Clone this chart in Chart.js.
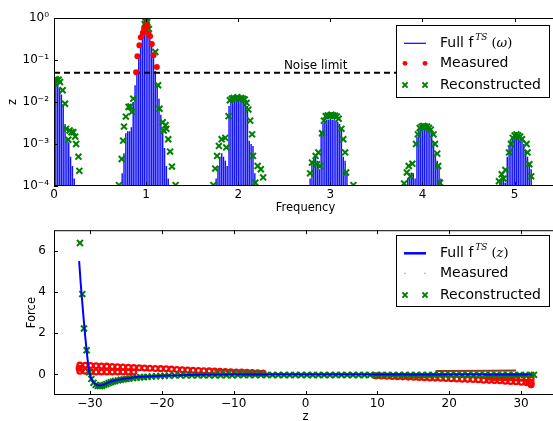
<!DOCTYPE html>
<html>
<head>
<meta charset="utf-8">
<title>Spectrum and force reconstruction</title>
<script src="https://cdn.jsdelivr.net/npm/chart.js@4.4.1/dist/chart.umd.min.js"></script>
<style>
  html, body { margin: 0; padding: 0; background: #fff; }
  body { width: 553px; height: 421px; overflow: hidden; position: relative; }
  canvas { position: absolute; left: 0; }
  #spectrumCanvas { top: 0; }
  #forceCanvas { top: 215px; }
</style>
</head>
<body>
<canvas id="spectrumCanvas" width="570" height="215"></canvas>
<canvas id="forceCanvas" width="570" height="210"></canvas>
<script>
// ---------- spectrum panel ----------
const freqTicks = [0, 1, 2, 3, 4, 5];
const ampTicks = [1e-4, 1e-3, 1e-2, 1e-1, 1];
const ampTickLabels = ['10\u207B\u2074', '10\u207B\u00B3', '10\u207B\u00B2', '10\u207B\u00B9', '10\u2070'];
const noiseLevel = 0.05;
const noiseLabelFreq = 2.84;
const ampFloor = 1e-4;

// spectral lines: offsets from each harmonic, and one amplitude row per harmonic
const harmonics = [0, 1, 2, 3, 4, 5];
const lineOffsets = [-0.26, -0.24, -0.22, -0.20, -0.18, -0.16, -0.14, -0.12, -0.10, -0.08, -0.06, -0.04, -0.02,
                     0, 0.02, 0.04, 0.06, 0.08, 0.10, 0.12, 0.14, 0.16, 0.18, 0.20, 0.22, 0.24, 0.26];
const spectrumH0 = [null, null, null, null, null, null, null, null, null, null, null, null, null,
                    0.03, 0.03, 0.028, 0.022, 0.015, 0.009, 0.003, 0.0014, 0.0011, 0.0005, 0.0003, 0.00015, null, null];
const spectrumH1 = [0.0002, 0.0006, 0.0018, 0.002, 0.002, 0.0025, 0.01, 0.025, 0.055, 0.13, 0.22, 0.38, 0.5,
                    0.65, 0.5, 0.38, 0.22, 0.13, 0.055, 0.025, 0.012, 0.005, 0.002, 0.0008, 0.0003, 0.00015, null];
const spectrumH2 = [null, 0.00015, 0.0003, 0.0005, 0.0006, 0.0005, 0.0004, 0.0003, 0.008, 0.010, 0.011, 0.011, 0.011,
                    0.012, 0.011, 0.011, 0.011, 0.010, 0.008, 0.0012, 0.001, 0.0009, 0.0002, null, null, null, null];
const spectrumH3 = [null, null, 0.00015, 0.0004, 0.0005, 0.0005, 0.0004, 0.00025, 0.002, 0.0032, 0.0036, 0.0038, 0.0038,
                    0.004, 0.0038, 0.0038, 0.0036, 0.0034, 0.003, 0.0022, 0.0005, 0.0004, 0.0002, null, null, null, null];
const spectrumH4 = [null, null, null, null, null, 0.00015, 0.0002, 0.00021, 0.0002, 0.00015, 0.0015, 0.0022, 0.0025,
                    0.0026, 0.0026, 0.0025, 0.0024, 0.0022, 0.0018, 0.0012, 0.0006, 0.0004, 0.0003, 0.00015, null, null, null];
const spectrumH5 = [null, null, null, null, null, 0.00013, 0.00015, 0.00014, 0.00012, 0.0005, 0.0009, 0.0012, 0.0014,
                    0.0016, 0.0016, 0.0015, 0.0014, 0.0012, 0.001, 0.0007, 0.0005, 0.00035, 0.00025, null, null, null, null];
const spectrumRows = [spectrumH0, spectrumH1, spectrumH2, spectrumH3, spectrumH4, spectrumH5];

// components above the noise limit
const measuredFreq = [0.891, 0.905, 0.927, 0.942, 0.964, 0.978, 1.0, 1.014, 1.025, 1.043, 1.062, 1.08, 1.116];
const measuredAmp  = [0.051, 0.123, 0.224, 0.347, 0.447, 0.56, 0.68, 0.65, 0.43, 0.37, 0.24, 0.13, 0.068];

// reconstructed components
const reconFreq = [
  0.01, 0.02, 0.035, 0.05, 0.065, 0.094, 0.12, 0.13, 0.155, 0.17, 0.19, 0.21, 0.23, 0.24, 0.265, 0.275,
  0.705, 0.735, 0.75, 0.76, 0.78, 0.81, 0.83, 0.845, 0.86,
  0.985, 0.995, 1.005, 1.012, 1.03, 1.10,
  1.13, 1.145, 1.18, 1.19, 1.21, 1.22, 1.24, 1.26, 1.28, 1.32,
  1.73, 1.75, 1.77, 1.79, 1.82, 1.86, 1.87, 1.895, 1.91, 1.93, 1.95, 1.97, 1.99, 2.01, 2.03, 2.05, 2.07, 2.09,
  2.11, 2.13, 2.15, 2.16, 2.185, 2.21, 2.245, 2.27,
  2.78, 2.80, 2.84, 2.855, 2.87, 2.89, 2.91, 2.93, 2.95, 2.97, 2.99, 3.01, 3.03, 3.05, 3.07, 3.09,
  3.12, 3.14, 3.16, 3.17, 3.25,
  3.80, 3.83, 3.85, 3.87, 3.89, 3.93, 3.95, 3.97, 3.99, 4.01, 4.03, 4.05, 4.07, 4.09, 4.12, 4.135, 4.16, 4.17, 4.19,
  4.83, 4.86, 4.88, 4.90, 4.94, 4.96, 4.98, 5.00, 5.02, 5.04, 5.06, 5.08, 5.13, 5.14, 5.16, 5.18
];
const reconAmp = [
  0.0275, 0.035, 0.032, 0.034, 0.03, 0.019, 0.0091, 0.0023, 0.00126, 0.0021, 0.0019, 0.0019, 0.0015, 0.001, 0.0005, 0.00023,
  0.000105, 0.00044, 0.0012, 0.0026, 0.0045, 0.0076, 0.0078, 0.0058, 0.012,
  0.72, 0.82, 0.9, 0.8, 0.55, 0.155,
  0.025, 0.0069, 0.0033, 0.0021, 0.0028, 0.0023, 0.0013, 0.00066, 0.00029, 0.000105,
  0.000105, 0.00026, 0.00052, 0.0009, 0.0013, 0.0014, 0.00083, 0.0046, 0.011, 0.012, 0.0125, 0.012, 0.013, 0.012, 0.0125, 0.012, 0.0115, 0.0095,
  0.0066, 0.0036, 0.0017, 0.00052, 0.00012, 0.0003, 0.00025, 0.00016,
  0.0002, 0.00036, 0.00052, 0.00033, 0.00063, 0.0003, 0.0018, 0.0036, 0.0046, 0.0048, 0.0047, 0.005, 0.0048, 0.0047, 0.0045, 0.004,
  0.0023, 0.0013, 0.00063, 0.00021, 0.000105,
  0.000115, 0.00021, 0.0003, 0.00017, 0.00034, 0.001, 0.0017, 0.0024, 0.0026, 0.0027, 0.0026, 0.0026, 0.0024, 0.0022, 0.0017, 0.001, 0.00059, 0.0003, 0.00012,
  0.00013, 0.00019, 0.00015, 0.00024, 0.00063, 0.001, 0.0014, 0.0016, 0.0017, 0.0016, 0.0015, 0.0013, 0.001, 0.00063, 0.00033, 0.00017
];

// ---------- force panel ----------
const zTicks = [-30, -20, -10, 0, 10, 20, 30];
const forceTicks = [0, 2, 4, 6];

const zFull = [-31.5, -31.3, -31.1, -30.9, -30.7, -30.5, -30.3, -30.1, -29.9, -29.7, -29.5, -29.2, -28.9, -28.6,
               -28.2, -27.8, -27.3, -26.7, -26.0, -25.0, -24.0, -23.0, -22.0, -20.0, -18.0, -16.0, -14.0, -12.0,
               -10.0, -5.0, 0, 5, 10, 15, 20, 25, 30, 31.5];
const forceFull = [5.5, 4.5, 3.65, 2.8, 2.0, 1.3, 0.65, 0.12, -0.12, -0.27, -0.38, -0.48, -0.53, -0.54,
                   -0.51, -0.45, -0.38, -0.31, -0.26, -0.2, -0.15, -0.12, -0.1, -0.07, -0.05, -0.03, -0.02, -0.02,
                   -0.01, -0.01, -0.01, -0.01, -0.01, -0.01, -0.01, -0.01, -0.01, -0.01];

const zRecon = [-31.39, -31.06, -30.83, -30.46, -30.1, -29.8, -29.5, -29.2, -28.9, -28.6, -28.3, -28.0, -27.7, -27.4,
                -27.1, -26.8, -26.5, -26.1, -25.7, -25.3, -24.9, -24.5, -24.0, -23.5, -23.0, -22.5, -22.0, -21.4,
                -20.8, -20.2, -19.6, -19.0,
                -18.2, -17.4, -16.6, -15.8, -15.0, -14.2, -13.4, -12.6, -11.8, -11.0, -10.2, -9.4, -8.6, -7.8,
                -7.0, -6.2, -5.4, -4.6, -3.8, -3.0, -2.2, -1.4, -0.6, 0.2, 1.0, 1.8, 2.6, 3.4, 4.2, 5.0, 5.8,
                6.6, 7.4, 8.2, 9.0, 9.8, 10.6, 11.4, 12.2, 13.0, 13.8, 14.6, 15.4, 16.2, 17.0, 17.8, 18.6, 19.4,
                20.2, 21.0, 21.8, 22.6, 23.4, 24.2, 25.0, 25.8, 26.6, 27.4, 28.2, 29.0, 29.8, 30.6, 31.4, 31.8];
const forceRecon = [6.38, 3.9, 2.23, 1.17, 0.1, -0.22, -0.41, -0.51, -0.56, -0.57, -0.55, -0.51, -0.47, -0.42,
                    -0.38, -0.35, -0.32, -0.29, -0.26, -0.24, -0.22, -0.2, -0.18, -0.16, -0.14, -0.13, -0.12, -0.1,
                    -0.09, -0.08, -0.07, -0.06,
                    -0.05, -0.05, -0.05, -0.04, -0.04, -0.04, -0.04, -0.04, -0.04, -0.04, -0.04, -0.03, -0.03, -0.03,
                    -0.03, -0.03, -0.03, -0.03, -0.03, -0.03, -0.03, -0.03, -0.03, -0.03, -0.03, -0.03, -0.03, -0.03, -0.03, -0.03, -0.03,
                    -0.03, -0.03, -0.03, -0.03, -0.03, -0.03, -0.03, -0.03, -0.03, -0.03, -0.03, -0.03, -0.03, -0.03, -0.03, -0.03, -0.03,
                    -0.03, -0.03, -0.03, -0.03, -0.03, -0.03, -0.03, -0.03, -0.03, -0.03, -0.03, -0.03, -0.03, -0.03, -0.03, -0.02];

// measured force samples: approach branch (left) and retract branch (right)
const zMeasured = [
  -31.5, -31.1,
  -31.4, -30.65, -29.9, -29.15, -28.4, -27.65, -26.9, -26.15, -25.4, -24.65, -23.9, -23.15, -22.4, -21.65,
  -20.9, -20.15, -19.4, -18.65, -17.9, -17.15, -16.4, -15.65, -14.9, -14.15, -13.4, -12.65, -11.9, -11.15,
  -10.4, -9.65, -8.9, -8.15, -7.4, -6.65, -5.9,
  -31.4, -30.65, -29.9, -29.15, -28.4, -27.65, -26.9, -26.15, -25.4, -24.65, -23.9,
  9.8, 10.55, 11.3, 12.05, 12.8, 13.55, 14.3, 15.05, 15.8, 16.55, 17.3, 18.05, 18.8, 19.55, 20.3, 21.05,
  21.8, 22.55, 23.3, 24.05, 24.8, 25.55, 26.3, 27.05, 27.8, 28.55, 29.3, 30.05, 30.8, 31.4,
  25.55, 26.3, 27.05, 27.8, 28.55, 29.3, 30.05, 30.8, 31.4, 31.4, 31.1
];
const forceMeasured = [
  0.3, 0.3,
  0.45, 0.44, 0.43, 0.42, 0.41, 0.4, 0.38, 0.37, 0.36, 0.35, 0.33, 0.32, 0.31, 0.3,
  0.29, 0.28, 0.27, 0.255, 0.24, 0.225, 0.21, 0.2, 0.19, 0.18, 0.17, 0.16, 0.15, 0.14,
  0.13, 0.12, 0.11, 0.1, 0.09, 0.08, 0.07,
  0.15, 0.15, 0.13, 0.12, 0.12, 0.12, 0.12, 0.12, 0.12, 0.12, 0.12,
  -0.07, -0.08, -0.09, -0.1, -0.11, -0.12, -0.13, -0.14, -0.15, -0.16, -0.17, -0.18, -0.19, -0.2, -0.21, -0.22,
  -0.23, -0.24, -0.25, -0.26, -0.28, -0.29, -0.3, -0.31, -0.33, -0.34, -0.36, -0.38, -0.4, -0.42,
  -0.14, -0.15, -0.15, -0.16, -0.16, -0.17, -0.18, -0.2, -0.22, -0.5, -0.35
];
// slow drift trace of the measured signal (null separates the two stretches)
const zTrace = [-12.7, -5.9, null, 18.1, 26.0, 29.3];
const forceTrace = [0.18, 0.16, null, 0.16, 0.18, 0.19];

// ---------- helpers ----------
const BLUE = '#0000ff', RED = '#ff0000', GREEN = '#008000', BROWN = '#8a3b1c';
const FONT = 'DejaVu Sans';
Chart.defaults.font.family = FONT;
Chart.defaults.color = '#000';

const pairs = (xs, ys) => xs.map((x, i) => ({ x: x, y: ys[i] }));

function spectralLinePoints() {
  const pts = [];
  harmonics.forEach((h, r) => {
    spectrumRows[r].forEach((a, k) => {
      if (a === null) return;
      const f = h + lineOffsets[k];
      pts.push({ x: f, y: ampFloor }, { x: f, y: a }, { x: f, y: null });
    });
  });
  return pts;
}

function tracePoints() {
  return zTrace.map((z, i) => z === null ? { x: zTrace[i - 1], y: null } : { x: z, y: forceTrace[i] });
}

function drawCross(ctx, x, y, h) {
  ctx.beginPath();
  ctx.moveTo(x - h, y - h); ctx.lineTo(x + h, y + h);
  ctx.moveTo(x - h, y + h); ctx.lineTo(x + h, y - h);
  ctx.stroke();
}

// axes frame with inward tick marks on all four sides
function framePlugin(xVals, yVals) {
  return {
    id: 'frame',
    afterDatasetsDraw(chart) {
      const { ctx, chartArea: { left, right, top, bottom }, scales: { x, y } } = chart;
      ctx.save();
      ctx.strokeStyle = '#000';
      ctx.lineWidth = 1;
      ctx.strokeRect(left + 0.5, top + 0.5, right - left - 1, bottom - top - 1);
      ctx.beginPath();
      xVals.forEach(v => {
        const px = Math.round(x.getPixelForValue(v)) + 0.5;
        ctx.moveTo(px, bottom); ctx.lineTo(px, bottom - 4);
        ctx.moveTo(px, top); ctx.lineTo(px, top + 4);
      });
      yVals.forEach(v => {
        const py = Math.round(y.getPixelForValue(v)) + 0.5;
        ctx.moveTo(left, py); ctx.lineTo(left + 4, py);
        ctx.moveTo(right, py); ctx.lineTo(right - 4, py);
      });
      ctx.stroke();
      ctx.restore();
    }
  };
}

// legend box drawn in the upper right corner of a panel
function legendPlugin(box, rowsY, argSymbol, full, measuredStyle) {
  return {
    id: 'legendBox',
    afterDraw(chart) {
      const ctx = chart.ctx;
      ctx.save();
      ctx.fillStyle = '#fff';
      ctx.fillRect(box.x, box.y, box.w, box.h);
      ctx.strokeStyle = '#000';
      ctx.lineWidth = 1;
      ctx.strokeRect(box.x + 0.5, box.y + 0.5, box.w, box.h);

      const hx0 = 405, hx1 = 425, tx = 440;
      // row 1: full spectrum / force
      ctx.strokeStyle = BLUE;
      ctx.lineWidth = full.width;
      ctx.beginPath();
      ctx.moveTo(hx0 - 1, rowsY[0]); ctx.lineTo(hx1 + 1, rowsY[0]);
      ctx.stroke();
      ctx.fillStyle = '#000';
      ctx.textBaseline = 'middle';
      ctx.textAlign = 'left';
      ctx.font = '14px "' + FONT + '"';
      ctx.fillText('Full f', tx, rowsY[0]);
      let cx = tx + ctx.measureText('Full f').width + 2;
      ctx.font = 'italic 9px "DejaVu Serif"';
      ctx.fillText('TS', cx, rowsY[0] - 6);
      cx += ctx.measureText('TS').width + 4;
      ctx.font = '13px "DejaVu Serif"';
      ctx.fillText('(', cx, rowsY[0]);
      cx += ctx.measureText('(').width;
      ctx.font = 'italic 13px "DejaVu Serif"';
      ctx.fillText(argSymbol, cx, rowsY[0]);
      cx += ctx.measureText(argSymbol).width;
      ctx.font = '13px "DejaVu Serif"';
      ctx.fillText(')', cx, rowsY[0]);

      // row 2: measured
      ctx.fillStyle = measuredStyle.color;
      [hx0, hx1].forEach(px => {
        ctx.beginPath();
        ctx.arc(px, rowsY[1], measuredStyle.r, 0, Math.PI * 2);
        ctx.fill();
      });
      ctx.fillStyle = '#000';
      ctx.font = '14px "' + FONT + '"';
      ctx.fillText('Measured', tx, rowsY[1]);

      // row 3: reconstructed
      ctx.strokeStyle = GREEN;
      ctx.lineWidth = 2;
      [hx0, hx1].forEach(px => drawCross(ctx, px, rowsY[2], 2.6));
      ctx.fillText('Reconstructed', tx, rowsY[2]);
      ctx.restore();
    }
  };
}

const noiseLabelPlugin = {
  id: 'noiseLabel',
  afterDatasetsDraw(chart) {
    const { ctx, scales: { x, y } } = chart;
    ctx.save();
    ctx.font = '12px "' + FONT + '"';
    ctx.fillStyle = '#000';
    ctx.textAlign = 'center';
    ctx.textBaseline = 'middle';
    ctx.fillText('Noise limit', x.getPixelForValue(noiseLabelFreq), y.getPixelForValue(noiseLevel) - 6.5);
    ctx.restore();
  }
};

const commonOptions = {
  responsive: false,
  animation: false,
  devicePixelRatio: 1,
  events: [],
  plugins: { legend: { display: false }, tooltip: { enabled: false } }
};

// ---------- spectrum chart ----------
new Chart(document.getElementById('spectrumCanvas'), {
  type: 'scatter',
  data: {
    datasets: [
      {
        label: 'Measured',
        data: pairs(measuredFreq, measuredAmp),
        pointStyle: 'circle', pointRadius: 3, borderWidth: 0,
        backgroundColor: RED, borderColor: RED, order: 0
      },
      {
        label: 'Reconstructed',
        data: pairs(reconFreq, reconAmp),
        pointStyle: 'crossRot', pointRadius: 4.2, borderWidth: 2,
        borderColor: GREEN, backgroundColor: GREEN, order: 1
      },
      {
        label: 'Noise limit',
        data: [{ x: 0, y: noiseLevel }, { x: 5.46, y: noiseLevel }],
        showLine: true, pointRadius: 0, borderColor: '#000', borderWidth: 2,
        borderDash: [6, 4], order: 2
      },
      {
        label: 'Full spectrum',
        data: spectralLinePoints(),
        showLine: true, spanGaps: false, pointRadius: 0,
        borderColor: 'rgba(0,0,255,0.92)', borderWidth: 1.45, order: 3
      }
    ]
  },
  options: Object.assign({}, commonOptions, {
    layout: { padding: { left: 0, right: 13, top: 18, bottom: 0 } },
    scales: {
      x: {
        type: 'linear', min: 0, max: 5.46,
        grid: { display: false, drawTicks: false }, border: { display: false },
        ticks: { padding: 2, maxRotation: 0, font: { size: 12 }, color: '#000' },
        afterBuildTicks: s => { s.ticks = freqTicks.map(v => ({ value: v })); },
        afterFit: s => { s.height = 29; },
        title: { display: true, text: 'Frequency', font: { size: 11.5 }, color: '#000', padding: { top: 0, bottom: 0 } }
      },
      y: {
        type: 'logarithmic', min: 1e-4, max: 1,
        grid: { display: false, drawTicks: false }, border: { display: false },
        ticks: { padding: 5, font: { size: 12 }, color: '#000', callback: (v, i) => ampTickLabels[i] },
        afterBuildTicks: s => { s.ticks = ampTicks.map(v => ({ value: v })); },
        afterFit: s => { s.width = 54; },
        title: { display: true, text: 'z', font: { size: 11.5 }, color: '#000', padding: { top: 6, bottom: 0 } }
      }
    }
  }),
  plugins: [
    framePlugin(freqTicks, ampTicks),
    noiseLabelPlugin,
    legendPlugin({ x: 396, y: 25, w: 153, h: 72 }, [43.3, 63.3, 85], '\u03C9', { width: 1.2 }, { color: RED, r: 2.4 })
  ]
});

// ---------- force chart ----------
new Chart(document.getElementById('forceCanvas'), {
  type: 'scatter',
  data: {
    datasets: [
      {
        label: 'Full',
        data: pairs(zFull, forceFull),
        showLine: true, pointRadius: 0, borderColor: BLUE, borderWidth: 2,
        cubicInterpolationMode: 'monotone', order: 0
      },
      {
        label: 'Reconstructed',
        data: pairs(zRecon, forceRecon),
        pointStyle: 'crossRot', pointRadius: 4.2, borderWidth: 2,
        borderColor: GREEN, backgroundColor: GREEN, order: 1
      },
      {
        label: 'Measured trace',
        data: tracePoints(),
        showLine: true, spanGaps: false, pointRadius: 0,
        borderColor: BROWN, borderWidth: 2, order: 2
      },
      {
        label: 'Measured',
        data: pairs(zMeasured, forceMeasured),
        pointStyle: 'circle', pointRadius: 2.4, borderWidth: 2.3,
        borderColor: RED, backgroundColor: 'rgba(0,0,0,0)', order: 3
      }
    ]
  },
  options: Object.assign({}, commonOptions, {
    layout: { padding: { left: 0, right: 13, top: 13, bottom: 0 } },
    scales: {
      x: {
        type: 'linear', min: -35, max: 35,
        grid: { display: false, drawTicks: false }, border: { display: false },
        ticks: {
          padding: 2, maxRotation: 0, font: { size: 12 }, color: '#000',
          callback: v => (v < 0 ? '\u2212' + Math.abs(v) : String(v))
        },
        afterBuildTicks: s => { s.ticks = zTicks.map(v => ({ value: v })); },
        afterFit: s => { s.height = 30; },
        title: { display: true, text: 'z', font: { size: 11.5 }, color: '#000', padding: { top: 0, bottom: 1.4 } }
      },
      y: {
        type: 'linear', min: -1, max: 7,
        grid: { display: false, drawTicks: false }, border: { display: false },
        ticks: { padding: 8, font: { size: 12 }, color: '#000' },
        afterBuildTicks: s => { s.ticks = forceTicks.map(v => ({ value: v })); },
        afterFit: s => { s.width = 54; },
        title: { display: true, text: 'Force', font: { size: 11.5 }, color: '#000', padding: { top: 25, bottom: 0 } }
      }
    }
  }),
  plugins: [
    framePlugin(zTicks, forceTicks),
    legendPlugin({ x: 396, y: 20, w: 153, h: 71 }, [38.3, 58.3, 80], 'z', { width: 2.5 }, { color: '#b0b0b0', r: 0.9 })
  ]
});
</script>
</body>
</html>
